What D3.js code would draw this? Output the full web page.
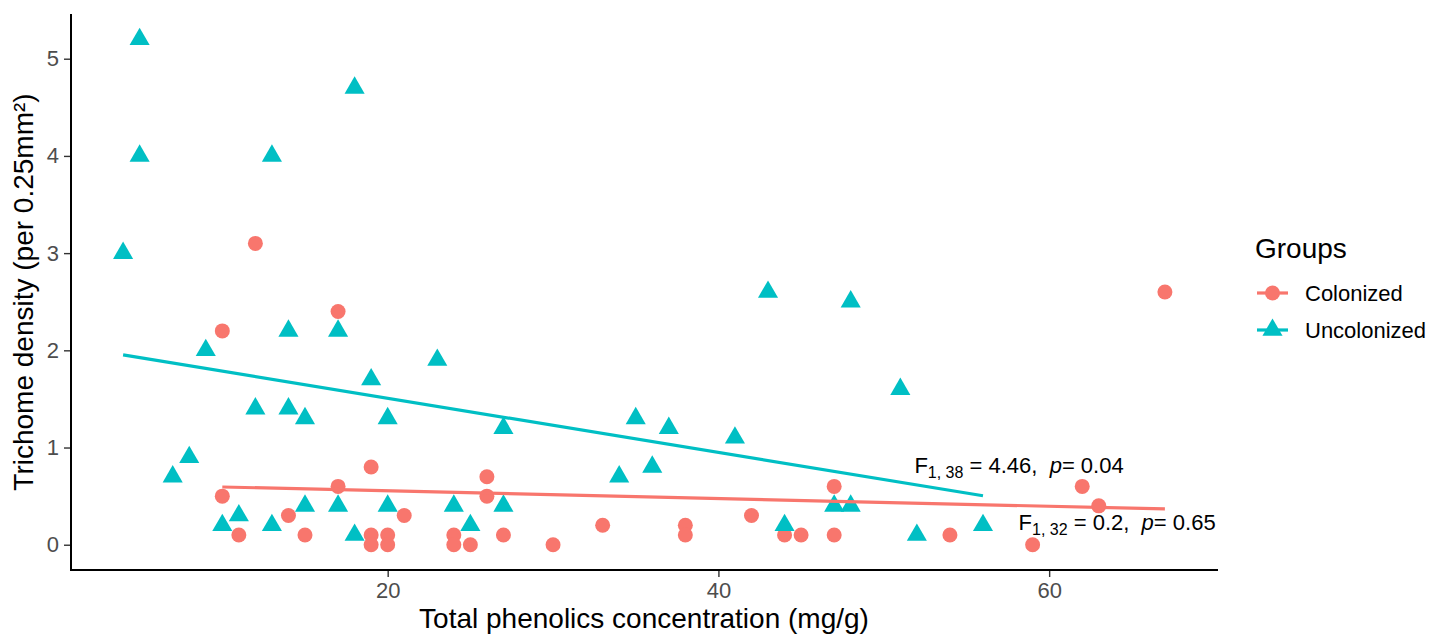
<!DOCTYPE html>
<html>
<head>
<meta charset="utf-8">
<script src="https://cdn.jsdelivr.net/npm/d3@7"></script>
<style>
  html, body { margin: 0; padding: 0; background: #fff; }
  svg { display: block; font-family: "Liberation Sans", Arial, sans-serif; }
  .stat { white-space: pre; }
</style>
</head>
<body>
<svg id="chart" width="1432" height="637"></svg>
<script>
// ---- Data ----
const groups = ["Colonized", "Uncolonized"];
const colors = ["#F8766D", "#00BFC4"];

const colonizedX = [12, 17, 10, 19, 17, 10, 14, 21, 11, 15, 19, 20, 19, 20, 26, 26, 24, 24, 25, 27, 30, 33, 38, 38, 42, 44, 45, 67, 47, 62, 63, 47, 54, 59];
const colonizedY = [3.1, 2.4, 2.2, 0.8, 0.6, 0.5, 0.3, 0.3, 0.1, 0.1, 0.1, 0.1, 0, 0, 0.7, 0.5, 0.1, 0, 0, 0.1, 0, 0.2, 0.2, 0.1, 0.3, 0.1, 0.1, 2.6, 0.6, 0.6, 0.4, 0.1, 0.1, 0];

const uncolonizedX = [5, 18, 5, 13, 4, 14, 17, 9, 19, 12, 14, 15, 20, 8, 7, 15, 17, 20, 11, 10, 13, 18, 43, 23, 27, 35, 37, 41, 36, 34, 24, 27, 25, 44, 48, 51, 47, 48, 52, 56];
const uncolonizedY = [5.2, 4.7, 4.0, 4.0, 3.0, 2.2, 2.2, 2.0, 1.7, 1.4, 1.4, 1.3, 1.3, 0.9, 0.7, 0.4, 0.4, 0.4, 0.3, 0.2, 0.2, 0.1, 2.6, 1.9, 1.2, 1.3, 1.2, 1.1, 0.8, 0.7, 0.4, 0.4, 0.2, 0.2, 2.5, 1.6, 0.4, 0.4, 0.1, 0.2];

const xTicks = [20, 40, 60];
const yTicks = [0, 1, 2, 3, 4, 5];

const statsLabels = [
  { F: "F", sub: "1, 38", rest: " = 4.46,  ", p: "p", tail: "= 0.04", x: 51.85, y: 0.74 },
  { F: "F", sub: "1, 32", rest: " = 0.2,  ", p: "p", tail: "= 0.65", x: 58.15, y: 0.15 }
];

const xTitle = "Total phenolics concentration (mg/g)";
const yTitle = "Trichome density (per 0.25mm²)";
const legendTitle = "Groups";

// ---- Layout ----
const svg = d3.select("#chart");
const panel = { left: 71, right: 1217, top: 14, bottom: 570 };

const allX = colonizedX.concat(uncolonizedX);
const allY = colonizedY.concat(uncolonizedY);
const xMin = d3.min(allX), xMax = d3.max(allX);
const yMin = d3.min(allY), yMax = d3.max(allY);
const xPad = (xMax - xMin) * 0.05, yPad = (yMax - yMin) * 0.05;

const x = d3.scaleLinear().domain([xMin - xPad, xMax + xPad]).range([panel.left, panel.right]);
const y = d3.scaleLinear().domain([yMin - yPad, yMax + yPad]).range([panel.bottom, panel.top]);

const series = [
  { name: groups[0], color: colors[0], xs: colonizedX, ys: colonizedY, shape: "circle" },
  { name: groups[1], color: colors[1], xs: uncolonizedX, ys: uncolonizedY, shape: "triangle" }
];

function fit(xs, ys) {
  const mx = d3.mean(xs), my = d3.mean(ys);
  let sxy = 0, sxx = 0;
  xs.forEach((v, i) => { sxy += (v - mx) * (ys[i] - my); sxx += (v - mx) * (v - mx); });
  const b = sxy / sxx, a = my - b * mx;
  const x0 = d3.min(xs), x1 = d3.max(xs);
  return [[x0, a + b * x0], [x1, a + b * x1]];
}

const triangle = d3.symbol().type(d3.symbolTriangle).size(175);

series.forEach(s => {
  const g = svg.append("g");
  const pts = s.xs.map((v, i) => [v, s.ys[i]]);
  if (s.shape === "circle") {
    g.selectAll("circle").data(pts).join("circle")
      .attr("cx", d => x(d[0])).attr("cy", d => y(d[1])).attr("r", 7.5)
      .attr("fill", s.color);
  } else {
    g.selectAll("path").data(pts).join("path")
      .attr("d", triangle)
      .attr("transform", d => `translate(${x(d[0])},${y(d[1])})`)
      .attr("fill", s.color);
  }
});

series.forEach(s => {
  const line = d3.line().x(d => x(d[0])).y(d => y(d[1]));
  svg.append("path").datum(fit(s.xs, s.ys))
    .attr("d", line).attr("stroke", s.color).attr("stroke-width", 3.2)
    .attr("fill", "none");
});

// ---- Axes ----
const xAxis = d3.axisBottom(x).tickValues(xTicks).tickFormat(d3.format("d")).tickSize(7).tickPadding(5).tickSizeOuter(0);
const yAxis = d3.axisLeft(y).tickValues(yTicks).tickFormat(d3.format("d")).tickSize(7).tickPadding(5).tickSizeOuter(0);

const gx = svg.append("g").attr("transform", `translate(0,${panel.bottom})`).call(xAxis);
const gy = svg.append("g").attr("transform", `translate(${panel.left},0)`).call(yAxis);

[gx, gy].forEach(g => {
  g.select(".domain").remove();
  g.selectAll(".tick line").attr("stroke", "#333").attr("stroke-width", 1.4);
  g.selectAll(".tick text").attr("fill", "#4D4D4D").attr("font-size", 22)
    .attr("font-family", "Liberation Sans, Arial, sans-serif");
});
gx.selectAll(".tick text").attr("dy", "0.71em");

svg.append("line").attr("x1", panel.left).attr("x2", panel.right + 1)
  .attr("y1", panel.bottom).attr("y2", panel.bottom).attr("stroke", "#000").attr("stroke-width", 2);
svg.append("line").attr("x1", panel.left).attr("x2", panel.left)
  .attr("y1", panel.top).attr("y2", panel.bottom + 1).attr("stroke", "#000").attr("stroke-width", 2);

svg.append("text").attr("x", (panel.left + panel.right) / 2).attr("y", 628)
  .attr("text-anchor", "middle").attr("font-size", 28).attr("fill", "#000").text(xTitle);
svg.append("text").attr("transform", `translate(33,${(panel.top + panel.bottom) / 2}) rotate(-90)`)
  .attr("text-anchor", "middle").attr("font-size", 28).attr("fill", "#000").text(yTitle);

statsLabels.forEach(l => {
  const t = svg.append("text").attr("class", "stat").attr("x", x(l.x)).attr("y", y(l.y))
    .attr("font-size", 22).attr("fill", "#000");
  t.append("tspan").text(l.F);
  t.append("tspan").attr("font-size", 16).attr("dy", 5).text(l.sub);
  t.append("tspan").attr("dy", -5).text(l.rest);
  t.append("tspan").attr("font-style", "italic").text(l.p);
  t.append("tspan").text(l.tail);
});

// ---- Legend ----
const lg = svg.append("g");
lg.append("text").attr("x", 1255).attr("y", 258).attr("font-size", 28).attr("fill", "#000").text(legendTitle);
series.forEach((s, i) => {
  const cy = 293 + i * 37;
  lg.append("line").attr("x1", 1257).attr("x2", 1288).attr("y1", cy).attr("y2", cy)
    .attr("stroke", s.color).attr("stroke-width", 3.2);
  if (s.shape === "circle") {
    lg.append("circle").attr("cx", 1272.5).attr("cy", cy).attr("r", 7.5).attr("fill", s.color);
  } else {
    lg.append("path").attr("d", triangle).attr("transform", `translate(1272.5,${cy})`).attr("fill", s.color);
  }
  lg.append("text").attr("x", 1305).attr("y", cy + 8).attr("font-size", 22).attr("fill", "#000").text(s.name);
});
</script>
</body>
</html>
